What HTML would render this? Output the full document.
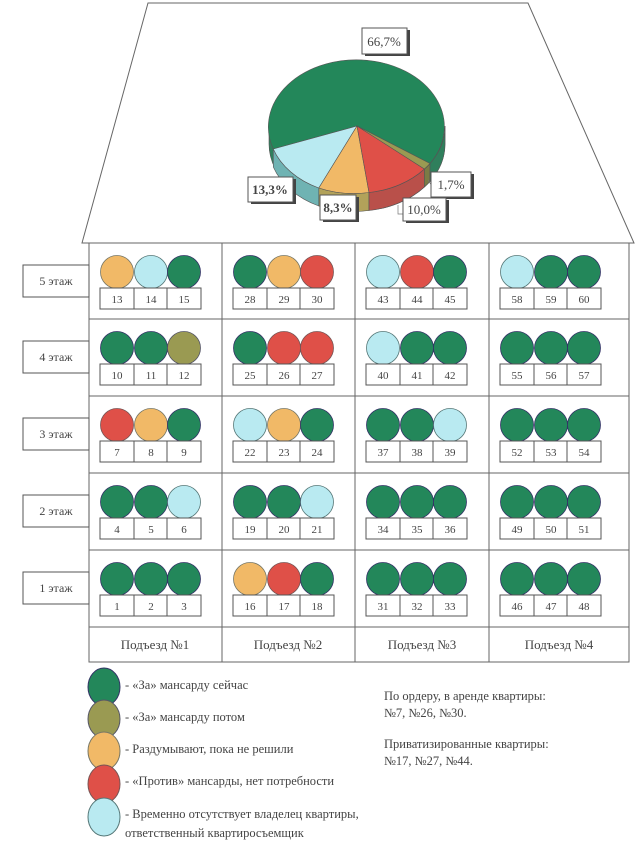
<!DOCTYPE html>
<html><head><meta charset="utf-8"><style>
html,body{margin:0;padding:0;background:#fff}
svg{display:block}
text{font-family:"Liberation Serif",serif;fill:#444}
.n{font-size:11px;text-anchor:middle}
.f{font-size:12px;text-anchor:middle}
.l{font-size:12.5px}
.G{fill:#23875a;stroke:#336}
.O{fill:#9a9a52;stroke:#556}
.Y{fill:#f1b967;stroke:#776}
.R{fill:#df5048;stroke:#755}
.B{fill:#b9eaf1;stroke:#577}
circle{stroke-width:0.8}
</style></head><body>
<svg width="644" height="845" viewBox="0 0 644 845" xmlns="http://www.w3.org/2000/svg">
<defs>
<g id="bx"><rect x="-50" y="45" width="101" height="21" fill="#fff" stroke="#555"/><line x1="-16" y1="45" x2="-16" y2="66" stroke="#555"/><line x1="17" y1="45" x2="17" y2="66" stroke="#555"/></g>
</defs>
<!-- roof -->
<polygon points="148,3 528,3 634,243 82,243" fill="#fff" stroke="#666" stroke-width="1"/>
<!-- pie: center 357,126 rx 88 ry 67 depth 18 -->
<g stroke="#555" stroke-width="0.6">
<!-- sides -->
<path d="M269,126 A88,67 0 0 0 445,126 L445,144 A88,67 0 0 1 269,144 Z" fill="#2f7f5c"/>
<path d="M273.3,149 A88,67 0 0 0 318.8,188 L318.8,206 A88,67 0 0 1 273.3,167 Z" fill="#6fb3b3"/>
<path d="M318.8,188 A88,67 0 0 0 369,192.5 L369,210.5 A88,67 0 0 1 318.8,206 Z" fill="#b2a25a"/>
<path d="M369,192.5 A88,67 0 0 0 424.4,169 L424.4,187 A88,67 0 0 1 369,210.5 Z" fill="#b9504a"/>
<path d="M424.4,169 A88,67 0 0 0 430,163.5 L430,181.5 A88,67 0 0 1 424.4,187 Z" fill="#7b7b45"/>
<path d="M430,163.5 A88,67 0 0 0 445,126 L445,144 A88,67 0 0 1 430,181.5 Z" fill="#2f7f5c"/>
<!-- top -->
<path d="M357,126 L430,163.5 A88,67 0 1 0 273.3,149 Z" fill="#23875a"/>
<path d="M357,126 L273.3,149 A88,67 0 0 0 318.8,188 Z" fill="#b9eaf1"/>
<path d="M357,126 L318.8,188 A88,67 0 0 0 369,192.5 Z" fill="#f1b967"/>
<path d="M357,126 L369,192.5 A88,67 0 0 0 424.4,169 Z" fill="#df5048"/>
<path d="M357,126 L424.4,169 A88,67 0 0 0 430,163.5 Z" fill="#9a9a52"/>
</g>
<g stroke="#777" fill="none" stroke-width="0.7"><polyline points="428,180 432,186 434,186"/><polyline points="398,205 398,214 404,214"/></g>
<g>
<rect x="365" y="30" width="45" height="26" fill="#444"/><rect x="362" y="28" width="45" height="26" fill="#fff" stroke="#555"/><text x="384" y="46" class="f" style="font-size:13px">66,7%</text>
<rect x="251" y="179" width="45" height="25" fill="#444"/><rect x="248" y="177" width="45" height="25" fill="#fff" stroke="#555"/><text x="270" y="194" class="f" style="font-size:13px;font-weight:bold">13,3%</text>
<rect x="323" y="197" width="36" height="25" fill="#444"/><rect x="320" y="195" width="36" height="25" fill="#fff" stroke="#555"/><text x="338" y="212" class="f" style="font-size:13px;font-weight:bold">8,3%</text>
<rect x="434" y="174" width="40" height="25" fill="#444"/><rect x="431" y="172" width="40" height="25" fill="#fff" stroke="#555"/><text x="451" y="189" class="f" style="font-size:13px">1,7%</text>
<rect x="406" y="200" width="43" height="23" fill="#444"/><rect x="403" y="198" width="43" height="23" fill="#fff" stroke="#555"/><text x="424" y="214" class="f" style="font-size:13px">10,0%</text>
</g>
<!-- grid -->
<g stroke="#666" fill="none">
<rect x="89" y="243" width="540" height="419"/>
<line x1="222" y1="243" x2="222" y2="662"/><line x1="355" y1="243" x2="355" y2="662"/><line x1="489" y1="243" x2="489" y2="662"/>
<line x1="89" y1="319" x2="629" y2="319"/><line x1="89" y1="396" x2="629" y2="396"/><line x1="89" y1="473" x2="629" y2="473"/><line x1="89" y1="550" x2="629" y2="550"/><line x1="89" y1="627" x2="629" y2="627"/>
</g>
<!-- floor labels -->
<g stroke="#555" fill="#fff">
<rect x="23" y="265" width="66" height="32"/><rect x="23" y="341" width="66" height="32"/><rect x="23" y="418" width="66" height="32"/><rect x="23" y="495" width="66" height="32"/><rect x="23" y="572" width="66" height="32"/>
</g>
<text x="56" y="285" class="f">5 этаж</text><text x="56" y="361" class="f">4 этаж</text><text x="56" y="438" class="f">3 этаж</text><text x="56" y="515" class="f">2 этаж</text><text x="56" y="592" class="f">1 этаж</text>
<!-- row 5 -->
<g transform="translate(150,243)"><circle class="Y" cx="-33" cy="29" r="16.5"/><circle class="B" cx="1" cy="29" r="16.5"/><circle class="G" cx="34" cy="29" r="16.5"/><use href="#bx"/><text class="n" x="-33" y="60">13</text><text class="n" x="1" y="60">14</text><text class="n" x="34" y="60">15</text></g>
<g transform="translate(283,243)"><circle class="G" cx="-33" cy="29" r="16.5"/><circle class="Y" cx="1" cy="29" r="16.5"/><circle class="R" cx="34" cy="29" r="16.5"/><use href="#bx"/><text class="n" x="-33" y="60">28</text><text class="n" x="1" y="60">29</text><text class="n" x="34" y="60">30</text></g>
<g transform="translate(416,243)"><circle class="B" cx="-33" cy="29" r="16.5"/><circle class="R" cx="1" cy="29" r="16.5"/><circle class="G" cx="34" cy="29" r="16.5"/><use href="#bx"/><text class="n" x="-33" y="60">43</text><text class="n" x="1" y="60">44</text><text class="n" x="34" y="60">45</text></g>
<g transform="translate(550,243)"><circle class="B" cx="-33" cy="29" r="16.5"/><circle class="G" cx="1" cy="29" r="16.5"/><circle class="G" cx="34" cy="29" r="16.5"/><use href="#bx"/><text class="n" x="-33" y="60">58</text><text class="n" x="1" y="60">59</text><text class="n" x="34" y="60">60</text></g>
<!-- row 4 -->
<g transform="translate(150,319)"><circle class="G" cx="-33" cy="29" r="16.5"/><circle class="G" cx="1" cy="29" r="16.5"/><circle class="O" cx="34" cy="29" r="16.5"/><use href="#bx"/><text class="n" x="-33" y="60">10</text><text class="n" x="1" y="60">11</text><text class="n" x="34" y="60">12</text></g>
<g transform="translate(283,319)"><circle class="G" cx="-33" cy="29" r="16.5"/><circle class="R" cx="1" cy="29" r="16.5"/><circle class="R" cx="34" cy="29" r="16.5"/><use href="#bx"/><text class="n" x="-33" y="60">25</text><text class="n" x="1" y="60">26</text><text class="n" x="34" y="60">27</text></g>
<g transform="translate(416,319)"><circle class="B" cx="-33" cy="29" r="16.5"/><circle class="G" cx="1" cy="29" r="16.5"/><circle class="G" cx="34" cy="29" r="16.5"/><use href="#bx"/><text class="n" x="-33" y="60">40</text><text class="n" x="1" y="60">41</text><text class="n" x="34" y="60">42</text></g>
<g transform="translate(550,319)"><circle class="G" cx="-33" cy="29" r="16.5"/><circle class="G" cx="1" cy="29" r="16.5"/><circle class="G" cx="34" cy="29" r="16.5"/><use href="#bx"/><text class="n" x="-33" y="60">55</text><text class="n" x="1" y="60">56</text><text class="n" x="34" y="60">57</text></g>
<!-- row 3 -->
<g transform="translate(150,396)"><circle class="R" cx="-33" cy="29" r="16.5"/><circle class="Y" cx="1" cy="29" r="16.5"/><circle class="G" cx="34" cy="29" r="16.5"/><use href="#bx"/><text class="n" x="-33" y="60">7</text><text class="n" x="1" y="60">8</text><text class="n" x="34" y="60">9</text></g>
<g transform="translate(283,396)"><circle class="B" cx="-33" cy="29" r="16.5"/><circle class="Y" cx="1" cy="29" r="16.5"/><circle class="G" cx="34" cy="29" r="16.5"/><use href="#bx"/><text class="n" x="-33" y="60">22</text><text class="n" x="1" y="60">23</text><text class="n" x="34" y="60">24</text></g>
<g transform="translate(416,396)"><circle class="G" cx="-33" cy="29" r="16.5"/><circle class="G" cx="1" cy="29" r="16.5"/><circle class="B" cx="34" cy="29" r="16.5"/><use href="#bx"/><text class="n" x="-33" y="60">37</text><text class="n" x="1" y="60">38</text><text class="n" x="34" y="60">39</text></g>
<g transform="translate(550,396)"><circle class="G" cx="-33" cy="29" r="16.5"/><circle class="G" cx="1" cy="29" r="16.5"/><circle class="G" cx="34" cy="29" r="16.5"/><use href="#bx"/><text class="n" x="-33" y="60">52</text><text class="n" x="1" y="60">53</text><text class="n" x="34" y="60">54</text></g>
<!-- row 2 -->
<g transform="translate(150,473)"><circle class="G" cx="-33" cy="29" r="16.5"/><circle class="G" cx="1" cy="29" r="16.5"/><circle class="B" cx="34" cy="29" r="16.5"/><use href="#bx"/><text class="n" x="-33" y="60">4</text><text class="n" x="1" y="60">5</text><text class="n" x="34" y="60">6</text></g>
<g transform="translate(283,473)"><circle class="G" cx="-33" cy="29" r="16.5"/><circle class="G" cx="1" cy="29" r="16.5"/><circle class="B" cx="34" cy="29" r="16.5"/><use href="#bx"/><text class="n" x="-33" y="60">19</text><text class="n" x="1" y="60">20</text><text class="n" x="34" y="60">21</text></g>
<g transform="translate(416,473)"><circle class="G" cx="-33" cy="29" r="16.5"/><circle class="G" cx="1" cy="29" r="16.5"/><circle class="G" cx="34" cy="29" r="16.5"/><use href="#bx"/><text class="n" x="-33" y="60">34</text><text class="n" x="1" y="60">35</text><text class="n" x="34" y="60">36</text></g>
<g transform="translate(550,473)"><circle class="G" cx="-33" cy="29" r="16.5"/><circle class="G" cx="1" cy="29" r="16.5"/><circle class="G" cx="34" cy="29" r="16.5"/><use href="#bx"/><text class="n" x="-33" y="60">49</text><text class="n" x="1" y="60">50</text><text class="n" x="34" y="60">51</text></g>
<!-- row 1 -->
<g transform="translate(150,550)"><circle class="G" cx="-33" cy="29" r="16.5"/><circle class="G" cx="1" cy="29" r="16.5"/><circle class="G" cx="34" cy="29" r="16.5"/><use href="#bx"/><text class="n" x="-33" y="60">1</text><text class="n" x="1" y="60">2</text><text class="n" x="34" y="60">3</text></g>
<g transform="translate(283,550)"><circle class="Y" cx="-33" cy="29" r="16.5"/><circle class="R" cx="1" cy="29" r="16.5"/><circle class="G" cx="34" cy="29" r="16.5"/><use href="#bx"/><text class="n" x="-33" y="60">16</text><text class="n" x="1" y="60">17</text><text class="n" x="34" y="60">18</text></g>
<g transform="translate(416,550)"><circle class="G" cx="-33" cy="29" r="16.5"/><circle class="G" cx="1" cy="29" r="16.5"/><circle class="G" cx="34" cy="29" r="16.5"/><use href="#bx"/><text class="n" x="-33" y="60">31</text><text class="n" x="1" y="60">32</text><text class="n" x="34" y="60">33</text></g>
<g transform="translate(550,550)"><circle class="G" cx="-33" cy="29" r="16.5"/><circle class="G" cx="1" cy="29" r="16.5"/><circle class="G" cx="34" cy="29" r="16.5"/><use href="#bx"/><text class="n" x="-33" y="60">46</text><text class="n" x="1" y="60">47</text><text class="n" x="34" y="60">48</text></g>
<!-- footer -->
<text x="155" y="649" class="f" style="font-size:13px">Подъезд №1</text>
<text x="288" y="649" class="f" style="font-size:13px">Подъезд №2</text>
<text x="422" y="649" class="f" style="font-size:13px">Подъезд №3</text>
<text x="559" y="649" class="f" style="font-size:13px">Подъезд №4</text>
<!-- legend -->
<ellipse class="G" cx="104" cy="687" rx="16" ry="19"/>
<ellipse class="O" cx="104" cy="719" rx="16" ry="19"/>
<ellipse class="Y" cx="104" cy="751" rx="16" ry="19"/>
<ellipse class="R" cx="104" cy="784" rx="16" ry="19"/>
<ellipse class="B" cx="104" cy="817" rx="16" ry="19"/>
<text x="125" y="689" class="l">- «За» мансарду сейчас</text>
<text x="125" y="721" class="l">- «За» мансарду потом</text>
<text x="125" y="753" class="l">- Раздумывают, пока не решили</text>
<text x="125" y="785" class="l">- «Против» мансарды, нет потребности</text>
<text x="125" y="818" class="l">- Временно отсутствует владелец квартиры,</text>
<text x="125" y="837" class="l">ответственный квартиросъемщик</text>
<text x="384" y="700" class="l">По ордеру, в аренде квартиры:</text>
<text x="384" y="717" class="l">№7, №26, №30.</text>
<text x="384" y="748" class="l">Приватизированные квартиры:</text>
<text x="384" y="765" class="l">№17, №27, №44.</text>
</svg>
</body></html>
